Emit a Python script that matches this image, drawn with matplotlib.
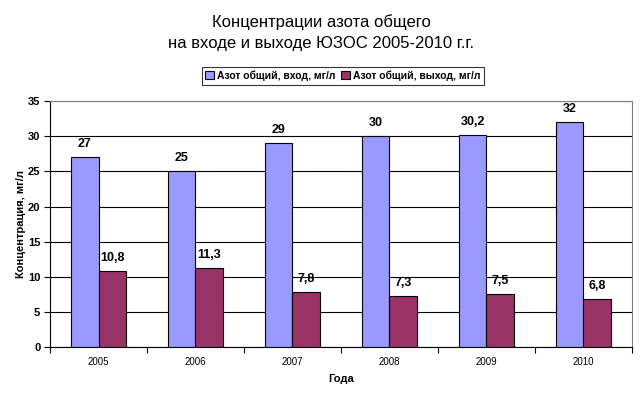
import numpy as np
import matplotlib
matplotlib.use("Agg")
import matplotlib.pyplot as plt

plt.rcParams['font.family'] = ['Liberation Sans', 'DejaVu Sans']

years = ["2005", "2006", "2007", "2008", "2009", "2010"]
n_in = [27, 25, 29, 30, 30.2, 32]
n_out = [10.8, 11.3, 7.8, 7.3, 7.5, 6.8]
in_labels = ["27", "25", "29", "30", "30,2", "32"]
out_labels = ["10,8", "11,3", "7,8", "7,3", "7,5", "6,8"]

fig = plt.figure(figsize=(6.42, 3.98), dpi=100)
ax = fig.add_axes([0.078, 0.128, 0.906, 0.618])

x = np.arange(len(years))
w = 0.285
b1 = ax.bar(x - w / 2, n_in, w, color="#9999FF", edgecolor="black", linewidth=0.8,
            label="Азот общий, вход, мг/л", zorder=3)
b2 = ax.bar(x + w / 2, n_out, w, color="#993366", edgecolor="black", linewidth=0.8,
            label="Азот общий, выход, мг/л", zorder=3)

for rect, lab in zip(b1, in_labels):
    ax.text(rect.get_x() + rect.get_width() / 2, rect.get_height() + 1.0, lab,
            ha="center", va="bottom", fontsize=9, fontweight="bold")
for rect, lab in zip(b2, out_labels):
    ax.text(rect.get_x() + rect.get_width() / 2, rect.get_height() + 1.0, lab,
            ha="center", va="bottom", fontsize=9, fontweight="bold")

ax.set_xlim(-0.5, len(years) - 0.5)
ax.set_ylim(0, 35)
ax.set_yticks(np.arange(0, 36, 5))
ax.set_yticklabels([str(v) for v in range(0, 36, 5)], fontsize=8, fontweight="bold")
ax.yaxis.grid(True, color="black", linewidth=0.8, zorder=0)

ax.set_xticks(x)
ax.set_xticklabels(years, fontsize=7)
ax.tick_params(axis="x", length=0, pad=7)
ax.set_xticks(np.arange(-0.5, len(years), 1), minor=True)
ax.tick_params(axis="x", which="minor", length=4, direction="out", width=0.8)
ax.tick_params(axis="y", length=4, direction="out", width=0.8, pad=3)

for side in ["left", "bottom"]:
    ax.spines[side].set_color("black")
    ax.spines[side].set_linewidth(0.8)
for side in ["top", "right"]:
    ax.spines[side].set_color("#808080")
    ax.spines[side].set_linewidth(0.8)

ax.set_xlabel("Года", fontsize=8, fontweight="bold", labelpad=5)
ax.set_ylabel("Концентрация, мг/л", fontsize=8, fontweight="bold", labelpad=1)

fig.suptitle("Концентрации азота общего\nна входе и выходе ЮЗОС 2005-2010 г.г.",
             x=0.5, y=0.965, fontsize=12, linespacing=1.55)

leg = fig.legend(loc="center", bbox_to_anchor=(0.534, 0.81), ncol=2,
                 frameon=True, fancybox=False, edgecolor="black", handlelength=0.8,
                 handleheight=0.8, handletextpad=0.3, columnspacing=0.6,
                 borderpad=0.35, prop={"weight": "bold", "size": 7.5})
leg.get_frame().set_linewidth(0.8)

fig.savefig("out.png", dpi=100)
